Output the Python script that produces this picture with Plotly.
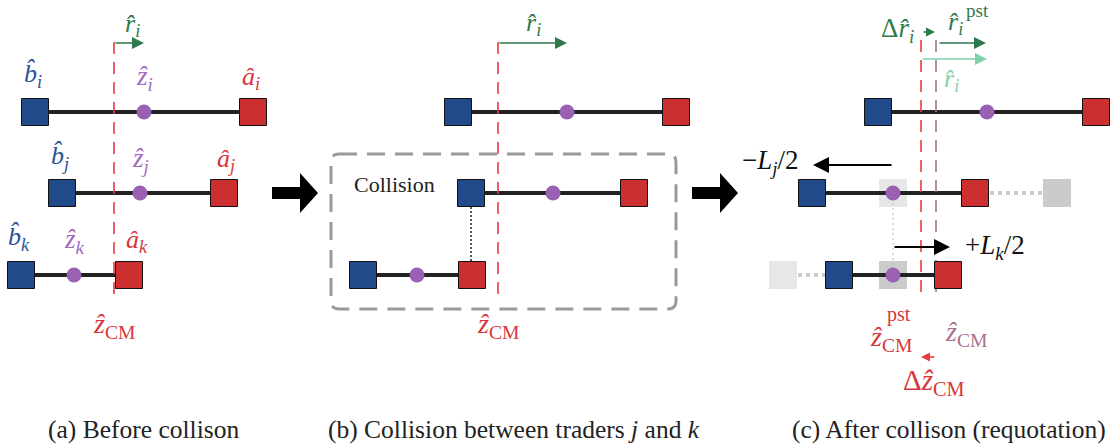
import plotly.graph_objects as go

# ---------------- data (diagram positions in pixel units) ----------------
row_y = [112, 193, 275]                 # traders i, j, k
names = ["i", "j", "k"]

a_bid = [35, 62, 21]
a_ask = [253, 224, 129]
a_mid = [144, 140, 74]
a_zcm = 114

b_bid = [458, 471, 363]
b_ask = [676, 634, 472]
b_mid = [567, 553, 417]
b_zcm = 498

c_bid = [878, 812, 839]
c_ask = [1096, 975, 948]
c_mid = [987, 893, 893]
c_zcm_pst = 921
c_zcm_old = 936

# ghost (previous) quote positions in panel c
c_ghost_light = [(893, 193), (783, 275)]
c_ghost_dark = [(1057, 193), (893, 275)]
c_ghost_dotted = [((990, 1050), 193), ((790, 826), 275)]

captions = ["(a) Before collison",
            "(b) Collision between traders <i>j</i> and <i>k</i>",
            "(c) After collison (requotation)"]
caption_x = [143, 514, 949]

BLUE = "#214a8a"
RED = "#cc2f2f"
PURPLE = "#9a60b3"
BLUE_T = "#2b5196"
RED_T = "#d9363b"
PURPLE_T = "#a06cc0"
DASH_RED = "#ee3a3a"
MAUVE = "#a8718f"
GREEN = "#2e7a4c"
LGREEN = "#80d2aa"
FONT = "Liberation Serif, Times New Roman, serif"

W, H = 1115, 447
fig = go.Figure()


def add_rows(bid, ask):
    xs, ys = [], []
    for b, a, y in zip(bid, ask, row_y):
        xs += [b, a, None]
        ys += [y, y, None]
    fig.add_trace(go.Scatter(x=xs, y=ys, mode="lines",
                             line=dict(color="#222222", width=4),
                             hoverinfo="skip"))


def add_vline(x, y0, y1, color, width=1.6, dash="12px,8px"):
    fig.add_trace(go.Scatter(x=[x, x], y=[y0, y1], mode="lines",
                             line=dict(color=color, width=width, dash=dash),
                             hoverinfo="skip"))


def add_marks(bid, ask, mid):
    fig.add_trace(go.Scatter(x=bid, y=row_y, mode="markers",
                             marker=dict(symbol="square", size=27, color=BLUE,
                                         line=dict(color="#111111", width=1)),
                             hoverinfo="skip"))
    fig.add_trace(go.Scatter(x=ask, y=row_y, mode="markers",
                             marker=dict(symbol="square", size=27, color=RED,
                                         line=dict(color="#111111", width=1)),
                             hoverinfo="skip"))
    fig.add_trace(go.Scatter(x=mid, y=row_y, mode="markers",
                             marker=dict(symbol="circle", size=15, color=PURPLE),
                             hoverinfo="skip"))


def label(x, y, text, color, size=25, xanchor="center"):
    fig.add_annotation(x=x, y=y, xref="x", yref="y", text=text, showarrow=False,
                       font=dict(family=FONT, size=size, color=color),
                       xanchor=xanchor, yanchor="middle")


def arrow(x0, x1, y, color, width=1.5, size=1.6, head=2):
    fig.add_annotation(x=x1, y=y, ax=x0, ay=y, xref="x", yref="y",
                       axref="x", ayref="y", text="", showarrow=True,
                       arrowhead=head, arrowsize=size, arrowwidth=width,
                       arrowcolor=color, standoff=0, startstandoff=0)


# ---------------- panel (c) ghosts (drawn first, underneath) ----------------
for (xr, y) in c_ghost_dotted:
    fig.add_trace(go.Scatter(x=list(xr), y=[y, y], mode="lines",
                             line=dict(color="#cccccc", width=4, dash="dot"),
                             hoverinfo="skip"))
fig.add_trace(go.Scatter(x=[p[0] for p in c_ghost_light], y=[p[1] for p in c_ghost_light],
                         mode="markers", marker=dict(symbol="square", size=28, color="#e7e7e7"),
                         hoverinfo="skip"))
fig.add_trace(go.Scatter(x=[p[0] for p in c_ghost_dark], y=[p[1] for p in c_ghost_dark],
                         mode="markers", marker=dict(symbol="square", size=28, color="#cbcbcb"),
                         hoverinfo="skip"))
fig.add_trace(go.Scatter(x=[c_mid[1], c_mid[2]], y=[row_y[1], row_y[2]], mode="lines",
                         line=dict(color="#b8b8b8", width=1, dash="2px,3px"),
                         hoverinfo="skip"))

# ---------------- rows ----------------
add_rows(a_bid, a_ask)
add_rows(b_bid, b_ask)
add_rows(c_bid, c_ask)

# dashed centre-of-mass lines
add_vline(a_zcm, 42, 300, DASH_RED)
add_vline(b_zcm, 42, 300, DASH_RED)
add_vline(c_zcm_pst, 40, 300, DASH_RED)
add_vline(c_zcm_old, 40, 300, MAUVE)

# collision dotted link (panel b)
add_vline(b_bid[1], row_y[1] + 14, row_y[2] - 14, "#222222", width=1.5, dash="2px,2px")

add_marks(a_bid, a_ask, a_mid)
add_marks(b_bid, b_ask, b_mid)
add_marks(c_bid, c_ask, c_mid)

# ---------------- panel (a) labels ----------------
hat_b = "<i>b\u0302</i><sub><i>{}</i></sub>"
hat_z = "<i>\u1e91</i><sub><i>{}</i></sub>"
hat_a = "<i>\u00e2</i><sub><i>{}</i></sub>"
hat_r = "<i>r\u0302</i><sub><i>{}</i></sub>"
zcm = "<i>\u1e91</i><sub>CM</sub>"
label_dy = [-37, -36, -37]
a_dx_ask = [-2, 2, 8]
for n, b, a, m, y, dy, dxa in zip(names, a_bid, a_ask, a_mid, row_y, label_dy, a_dx_ask):
    label(b - 2, y + dy, hat_b.format(n), BLUE_T, size=26)
    label(m, y + dy + 3, hat_z.format(n), PURPLE_T, size=27)
    label(a + dxa, y + dy + 3, hat_a.format(n), RED_T, size=26)
label(a_zcm, 325, zcm, RED_T, size=28)
arrow(a_zcm, a_zcm + 30, 43, GREEN)
label(a_zcm + 18, 25, hat_r.format("i"), GREEN, size=26)

# ---------------- panel (b) ----------------
fig.add_shape(type="path",
              path="M 339,154 H 668 Q 676,154 676,162 V 301 Q 676,309 668,309 "
                   "H 339 Q 331,309 331,301 V 162 Q 331,154 339,154 Z",
              xref="x", yref="y", line=dict(color="#9a9a9a", width=3, dash="18px,10px"),
              layer="below")
label(394, 184, "Collision", "#222222", size=22)
arrow(b_zcm, b_zcm + 69, 43, GREEN)
label(b_zcm + 35, 24, hat_r.format("i"), GREEN, size=26)
label(b_zcm, 325, zcm, RED_T, size=28)

# ---------------- panel (c) ----------------
arrow(c_zcm_old + 2, c_zcm_old + 50, 43, GREEN)
arrow(c_zcm_pst, c_zcm_pst + 66, 59, LGREEN)
arrow(c_zcm_pst + 1, c_zcm_pst + 14, 32, GREEN, width=1.5, size=1.2)
label(897, 30, "\u0394<i>r\u0302</i><sub><i>i</i></sub>", GREEN, size=27)
label(955, 23, hat_r.format("i"), GREEN, size=26)
label(977, 10, "pst", GREEN, size=19)
label(951, 80, hat_r.format("i"), LGREEN, size=26)

arrow(c_mid[1], c_bid[1] + 1, 165, "#000000", width=2, size=1.6)
label(770, 162, "\u2212<i>L</i><sub><i>j</i></sub>/2", "#111111", size=27)
arrow(c_mid[2], c_zcm_old + 14, 247, "#000000", width=2, size=1.6)
label(995, 247, "+<i>L</i><sub><i>k</i></sub>/2", "#111111", size=27)

label(891, 338, zcm, RED_T, size=28)
label(899, 314, "pst", RED_T, size=20)
label(966, 333, zcm, MAUVE, size=28)
arrow(c_zcm_old, c_zcm_pst, 357, DASH_RED, width=1.5, size=1.2)
label(934, 382, "\u0394<i>\u1e91</i><sub>CM</sub>", RED_T, size=29)

# ---------------- big transition arrows ----------------
for x0 in [272, 692]:
    fig.add_shape(type="path",
                  path=f"M {x0},187 H {x0+28} V 173 L {x0+46},193 L {x0+28},213 V 199 H {x0} Z",
                  xref="x", yref="y", fillcolor="#000000", line=dict(width=0))

# ---------------- captions ----------------
for cx, txt in zip(caption_x, captions):
    label(cx, 429, txt, "#222222", size=25.5)

fig.update_layout(width=W, height=H, margin=dict(l=0, r=0, t=0, b=0),
                  paper_bgcolor="white", plot_bgcolor="white", showlegend=False,
                  xaxis=dict(range=[0, W], visible=False, fixedrange=True),
                  yaxis=dict(range=[H, 0], visible=False, fixedrange=True))
fig.write_html("out.html", config={"displayModeBar": False},
               post_script="document.body.style.margin='0';document.body.style.overflow='hidden';")
